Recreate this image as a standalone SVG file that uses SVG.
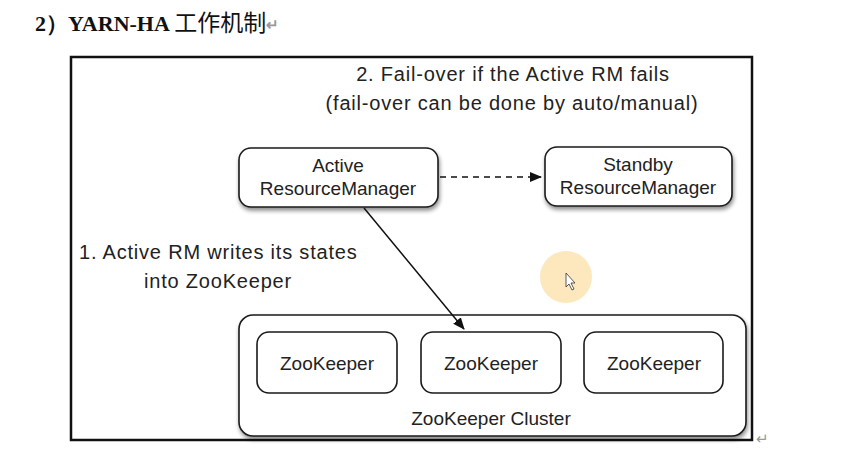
<svg xmlns="http://www.w3.org/2000/svg" width="857" height="456" viewBox="0 0 857 456">
<style>
.node{fill:#fff;stroke:#1a1a1a;stroke-width:1.6}
.t{font-family:"Liberation Sans",Arial,sans-serif;font-size:19px;fill:#222}
.lbl{font-size:20px;letter-spacing:0.8px}
.c{text-anchor:middle}
.ret{font-family:"Liberation Sans",sans-serif;font-size:15px;fill:#999}
</style>
<defs>
<filter id="sh" x="-10%" y="-10%" width="130%" height="140%">
<feGaussianBlur in="SourceAlpha" stdDeviation="2"/>
<feOffset dx="1" dy="3" result="b"/>
<feComponentTransfer><feFuncA type="linear" slope="0.45"/></feComponentTransfer>
<feMerge><feMergeNode/><feMergeNode in="SourceGraphic"/></feMerge>
</filter>
<marker id="ah" markerWidth="12" markerHeight="10" refX="11" refY="5" orient="auto" markerUnits="userSpaceOnUse">
<path d="M0,0 L12,5 L0,10 Z" fill="#111"/>
</marker>
</defs>
<rect width="857" height="456" fill="#fff"/>
<text x="35" y="31" font-family="'Liberation Serif','Times New Roman',serif" font-size="22" font-weight="bold" fill="#111">2）YARN-HA <tspan font-weight="normal" font-size="23" font-family="'Noto Sans CJK SC',sans-serif">工作机制</tspan><tspan class="ret" dy="-1">↵</tspan></text>
<rect x="71" y="57" width="681" height="383" fill="#fff" stroke="#111" stroke-width="2.5"/>
<text x="756" y="444" class="ret">↵</text>
<g id="label-failover">
<text x="513" y="81" class="t c lbl">2. Fail-over if the Active RM fails</text>
<text x="512" y="110" class="t c lbl">(fail-over can be done by auto/manual)</text>
</g>
<g id="label-writes">
<text x="79" y="259" class="t lbl">1. Active RM writes its states</text>
<text x="144" y="288" class="t lbl">into ZooKeeper</text>
</g>
<g id="zk-cluster">
<rect x="239" y="315" width="507" height="121" rx="14" class="node" filter="url(#sh)"/>
<text x="491" y="425" class="t c">ZooKeeper Cluster</text>
</g>
<g id="zk1">
<rect x="257" y="332" width="140" height="61" rx="12" class="node"/>
<text x="327" y="370" class="t c">ZooKeeper</text>
</g>
<g id="zk2">
<rect x="421" y="332" width="140" height="61" rx="12" class="node"/>
<text x="491" y="370" class="t c">ZooKeeper</text>
</g>
<g id="zk3">
<rect x="584" y="332" width="139" height="61" rx="12" class="node"/>
<text x="654" y="370" class="t c">ZooKeeper</text>
</g>
<g id="active-rm">
<rect x="239" y="148" width="199" height="59" rx="12" class="node" filter="url(#sh)"/>
<text x="338" y="172" class="t c">Active</text>
<text x="338" y="195" class="t c">ResourceManager</text>
</g>
<g id="standby-rm">
<rect x="545" y="147" width="187" height="59" rx="12" class="node" filter="url(#sh)"/>
<text x="638" y="171" class="t c">Standby</text>
<text x="638" y="194" class="t c">ResourceManager</text>
</g>
<g id="connectors" fill="none" stroke="#111" stroke-width="1.5">
<line x1="440" y1="177" x2="541" y2="177" stroke-dasharray="6,5" marker-end="url(#ah)"/>
<line x1="364" y1="208" x2="464" y2="329" marker-end="url(#ah)"/>
</g>
<circle cx="566" cy="277" r="26" fill="#fde6b6" opacity="0.9"/>
<path d="M566,273 l0,14 l3,-3 l3,6 l2,-1 l-3,-6 l4,0 z" fill="#fff" stroke="#333" stroke-width="0.8"/>
</svg>
